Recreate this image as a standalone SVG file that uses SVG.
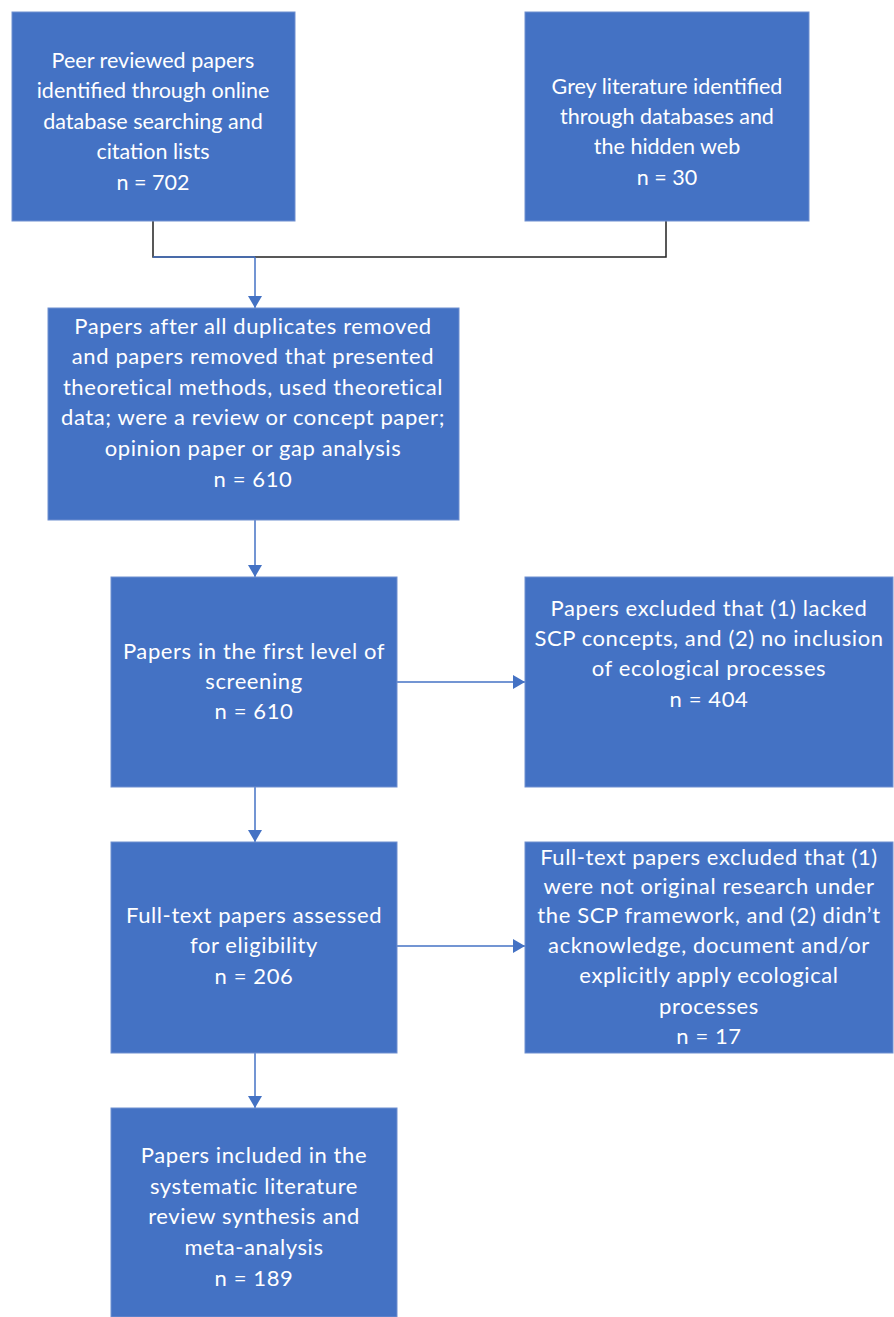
<svg xmlns="http://www.w3.org/2000/svg" width="894" height="1317" viewBox="0 0 894 1317">
<style>
.box{fill:#4472C4;stroke:#6F8FD0;stroke-width:1}
.t{font-family:Lato,"Open Sans",sans-serif;font-size:22px;letter-spacing:0.6px;fill:#fff;text-anchor:middle}
.t2{font-size:21.5px;letter-spacing:0}
.blue{stroke:#4472C4;stroke-width:1.5;fill:none}
.black{stroke:#222;stroke-width:1.5;fill:none}
</style>
<defs>
<marker id="ah" viewBox="0 0 12 14" refX="12" refY="7" markerWidth="12" markerHeight="14" markerUnits="userSpaceOnUse" orient="auto">
<path d="M0,0 L12,7 L0,14 Z" fill="#4472C4"/>
</marker>
</defs>
<rect width="894" height="1317" fill="#fff"/>
<g id="connectors">
<path class="black" d="M153,221 V257 H666 V221"/>
<path class="blue" d="M153,257 H255"/>
<path class="blue" d="M255,257 V308" marker-end="url(#ah)"/>
<path class="blue" d="M255,520 V577" marker-end="url(#ah)"/>
<path class="blue" d="M397,682 H525" marker-end="url(#ah)"/>
<path class="blue" d="M255,787 V842" marker-end="url(#ah)"/>
<path class="blue" d="M397,946 H525" marker-end="url(#ah)"/>
<path class="blue" d="M255,1053 V1108" marker-end="url(#ah)"/>
</g>
<g id="n1">
<rect class="box" x="12" y="12" width="283" height="209"/>
<text class="t t2"><tspan x="153" y="68">Peer reviewed papers</tspan><tspan x="153" y="98">identified through online</tspan><tspan x="153" y="129">database searching and</tspan><tspan x="153" y="159">citation lists</tspan><tspan x="153" y="190">n = 702</tspan></text>
</g>
<g id="n2">
<rect class="box" x="525" y="12" width="284" height="209"/>
<text class="t t2"><tspan x="667" y="94">Grey literature identified</tspan><tspan x="667" y="124">through databases and</tspan><tspan x="667" y="154">the hidden web</tspan><tspan x="667" y="185">n = 30</tspan></text>
</g>
<g id="n3">
<rect class="box" x="48" y="308" width="411" height="212"/>
<text class="t"><tspan x="253" y="334">Papers after all duplicates removed</tspan><tspan x="253" y="364">and papers removed  that presented</tspan><tspan x="253" y="395">theoretical methods, used theoretical</tspan><tspan x="253" y="425">data; were a review or concept paper;</tspan><tspan x="253" y="456">opinion paper or gap analysis</tspan><tspan x="253" y="487">n = 610</tspan></text>
</g>
<g id="n4">
<rect class="box" x="111" y="577" width="286" height="210"/>
<text class="t"><tspan x="254" y="659">Papers in the first level of</tspan><tspan x="254" y="689">screening</tspan><tspan x="254" y="719">n = 610</tspan></text>
</g>
<g id="n5">
<rect class="box" x="525" y="577" width="368" height="210"/>
<text class="t"><tspan x="709" y="616">Papers excluded that (1) lacked</tspan><tspan x="709" y="646">SCP concepts, and (2) no inclusion</tspan><tspan x="709" y="676">of ecological processes</tspan><tspan x="709" y="707">n = 404</tspan></text>
</g>
<g id="n6">
<rect class="box" x="111" y="842" width="286" height="211"/>
<text class="t"><tspan x="254" y="923">Full-text papers assessed</tspan><tspan x="254" y="953">for eligibility</tspan><tspan x="254" y="984">n = 206</tspan></text>
</g>
<g id="n7">
<rect class="box" x="525" y="842" width="368" height="211"/>
<text class="t"><tspan x="709" y="865">Full-text papers excluded that (1)</tspan><tspan x="709" y="894">were not original research under</tspan><tspan x="709" y="923">the SCP framework, and (2) didn’t</tspan><tspan x="709" y="953">acknowledge, document and/or</tspan><tspan x="709" y="983">explicitly apply ecological</tspan><tspan x="709" y="1014">processes</tspan><tspan x="709" y="1044">n = 17</tspan></text>
</g>
<g id="n8">
<rect class="box" x="111" y="1108" width="286" height="209"/>
<text class="t"><tspan x="254" y="1163">Papers included in the</tspan><tspan x="254" y="1194">systematic literature</tspan><tspan x="254" y="1224">review synthesis and</tspan><tspan x="254" y="1255">meta-analysis</tspan><tspan x="254" y="1286">n = 189</tspan></text>
</g>
</svg>
